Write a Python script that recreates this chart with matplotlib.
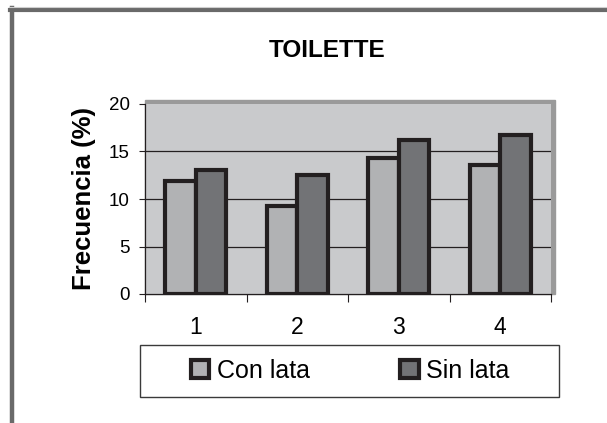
import numpy as np
import matplotlib
matplotlib.use("Agg")
import matplotlib.pyplot as plt
from matplotlib.patches import Rectangle
from matplotlib.lines import Line2D

plt.rcParams['font.family'] = ['Liberation Sans', 'DejaVu Sans']

# datos
categorias = ['1', '2', '3', '4']
con_lata = [11.9, 9.3, 14.3, 13.6]
sin_lata = [13.0, 12.5, 16.2, 16.7]
series = ['Con lata', 'Sin lata']
yticks = [0, 5, 10, 15, 20]

W, H = 607, 423
fig = plt.figure(figsize=(W / 100, H / 100), dpi=100)

def fx(px):
    return px / W

def fy(px):
    return 1 - px / H

# marco exterior (solo arriba e izquierda)
fig.add_artist(Line2D([fx(10), 1], [fy(10), fy(10)], color='#6a6a6a', lw=3.0))
fig.add_artist(Line2D([fx(12.5), fx(12.5)], [fy(8.5), 0], color='#6a6a6a', lw=3.2))
fig.add_artist(Line2D([fx(10), 1], [fy(7), fy(7)], color='#cfcfcf', lw=0.8))

# sombra gris del area de trazado
fig.add_artist(Rectangle((fx(145), fy(294)), fx(555) - fx(145), fy(100) - fy(294),
                         transform=fig.transFigure, color='#9a9a9a', zorder=-1))

ax = fig.add_axes([fx(145), fy(294), fx(551) - fx(145), fy(104) - fy(294)])
ax.set_facecolor('#c9cacc')

x = np.arange(len(categorias))
w = 0.3
edge = '#231f20'
b1 = ax.bar(x - w / 2, con_lata, w, color='#b1b2b4', edgecolor=edge, linewidth=3.0,
            label=series[0], zorder=3)
b2 = ax.bar(x + w / 2, sin_lata, w, color='#727376', edgecolor=edge, linewidth=3.0,
            label=series[1], zorder=3)

ax.set_xlim(-0.5, len(categorias) - 0.5)
ax.set_ylim(0, 20)
ax.set_yticks(yticks)
ax.set_yticklabels([str(v) for v in yticks], fontsize=13.5)
ax.tick_params(axis='y', length=4, width=0.8, pad=7, color=edge)

# lineas de division solo en 5, 10 y 15
for v in yticks[1:-1]:
    ax.axhline(v, color=edge, linewidth=0.9, zorder=1)

# marcas entre categorias, etiquetas en el centro
ax.set_xticks(np.arange(-0.5, len(categorias)), minor=False)
ax.set_xticklabels([])
ax.set_xticks(x, minor=True)
ax.set_xticklabels(categorias, minor=True, fontsize=16.5)
ax.tick_params(axis='x', which='major', direction='out', length=6, width=0.8, color=edge)
ax.tick_params(axis='x', which='minor', length=0, pad=16)

for s in ['top', 'right']:
    ax.spines[s].set_visible(False)
for s in ['left', 'bottom']:
    ax.spines[s].set_color(edge)
    ax.spines[s].set_linewidth(0.9)
    ax.spines[s].set_zorder(4)

fig.text(fx(327), fy(50.5), 'TOILETTE', fontsize=17.5, fontweight='bold',
         ha='center', va='center')
fig.text(fx(84), fy(199), 'Frecuencia (%)', fontsize=18.5, fontweight='bold',
         rotation=90, ha='center', va='center')

# cuadro de la leyenda
fig.add_artist(Rectangle((fx(140), fy(397)), fx(559) - fx(140), fy(345) - fy(397),
                         transform=fig.transFigure, facecolor='white',
                         edgecolor='#3a3a3a', lw=1.0, zorder=2))
leg = fig.legend(handles=[b1, b2], loc='center', ncol=2,
                 bbox_to_anchor=(fx(350), fy(371)), frameon=False, fontsize=18,
                 handlelength=0.75, handleheight=0.75, handletextpad=0.3,
                 columnspacing=3.6)
leg.set_zorder(3)

fig.savefig('out.png', dpi=100)
